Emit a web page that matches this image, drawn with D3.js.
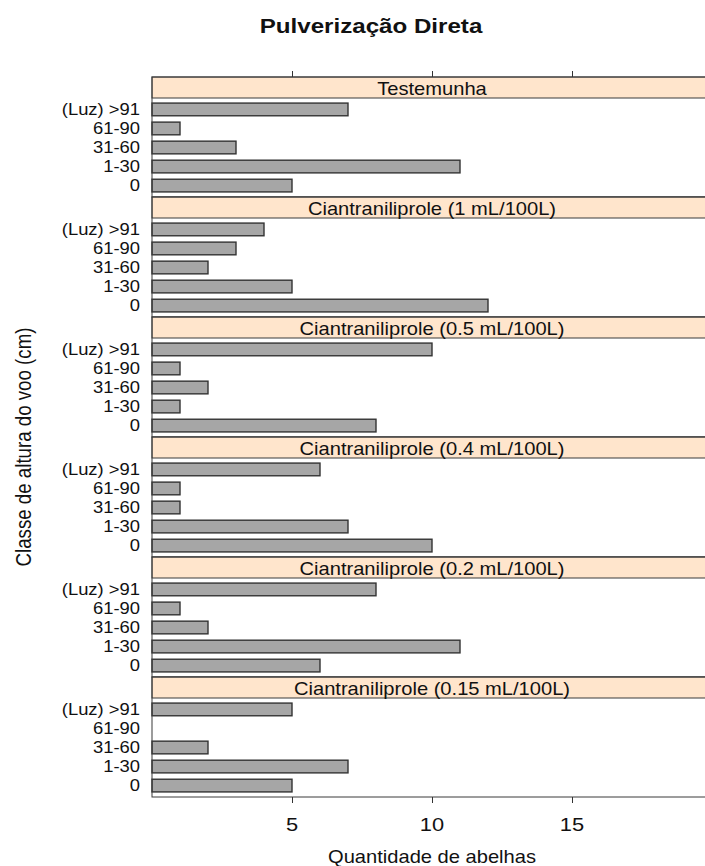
<!DOCTYPE html>
<html>
<head>
<meta charset="utf-8">
<script src="https://cdn.jsdelivr.net/npm/d3@7"></script>
<style>
  html, body { margin: 0; padding: 0; background: #fff; }
  svg { display: block; font-family: "Liberation Sans", Arial, sans-serif; }
</style>
</head>
<body>
<svg id="chart" width="705" height="866"></svg>
<script>
// Flight-height classes, listed bottom to top within each panel
const classes = ["0", "1-30", "31-60", "61-90", "(Luz) >91"];

// Treatments (one panel each, top to bottom)
const treatments = [
  "Testemunha",
  "Ciantraniliprole (1 mL/100L)",
  "Ciantraniliprole (0.5 mL/100L)",
  "Ciantraniliprole (0.4 mL/100L)",
  "Ciantraniliprole (0.2 mL/100L)",
  "Ciantraniliprole (0.15 mL/100L)"
];

// Bee counts per class (same order as classes)
const testemunha = [5, 11, 3, 1, 7];
const cian1 = [12, 5, 2, 3, 4];
const cian05 = [8, 1, 2, 1, 10];
const cian04 = [10, 7, 1, 1, 6];
const cian02 = [6, 11, 2, 1, 8];
const cian015 = [5, 7, 2, 0, 5];

const xTicks = [5, 10, 15];
const xDomain = [0, 20];

const seriesByPanel = [testemunha, cian1, cian05, cian04, cian02, cian015];

const svg = d3.select("#chart");
const SX = 1.15; // horizontal glyph stretch

const padL = 152, padR = 712, padT = 77, panelH = 120, stripH = 21;
const x = d3.scaleLinear().domain(xDomain).range([padL, padR]);

function stext(px, py, str, size, anchor, weight) {
  return svg.append("text")
    .attr("transform", `translate(${px},${py}) scale(${SX},1)`)
    .attr("text-anchor", anchor || "middle")
    .attr("font-size", size)
    .attr("font-weight", weight || "normal")
    .attr("fill", "#111")
    .text(str);
}

// Title
stext(371, 33, "Pulverização Direta", 21, "middle", "bold");

treatments.forEach((name, i) => {
  const y0 = padT + i * panelH;
  const barTop = y0 + stripH;
  const barBottom = y0 + panelH;
  const y = d3.scaleLinear().domain([0.4, classes.length + 0.6]).range([barBottom, barTop]);
  const unit = Math.abs(y(1) - y(0));
  const bh = unit * 2 / 3;

  // strip
  svg.append("rect")
    .attr("x", padL).attr("y", y0).attr("width", padR - padL).attr("height", stripH)
    .attr("fill", "#ffe5cc").attr("stroke", "#3a3a3a").attr("stroke-width", 1);
  stext((padL + padR) / 2, y0 + 18, name, 17.5, "middle");

  // bars
  const vals = seriesByPanel[i];
  svg.append("g").selectAll("rect")
    .data(classes.map((c, k) => ({ c, k: k + 1, v: vals[k] })))
    .join("rect")
    .attr("x", x(0))
    .attr("y", d => y(d.k) - bh / 2)
    .attr("width", d => x(d.v) - x(0))
    .attr("height", bh)
    .attr("fill", "#a6a6a6")
    .attr("stroke", "#333")
    .attr("stroke-width", 1.4);

  // class labels
  classes.forEach((c, k) => {
    stext(140, y(k + 1) + 5.5, c, 16, "end");
  });

  // panel frame
  svg.append("rect")
    .attr("x", padL).attr("y", y0).attr("width", padR - padL).attr("height", panelH)
    .attr("fill", "none").attr("stroke", "#3a3a3a").attr("stroke-width", 1);
});

// top axis ticks
const axTop = svg.append("g").attr("transform", `translate(0,${padT})`)
  .call(d3.axisTop(x).tickValues(xTicks).tickSize(6).tickFormat(""));
axTop.select(".domain").remove();
axTop.selectAll("line").attr("stroke", "#333");

// bottom axis
const padB = padT + treatments.length * panelH;
const axBot = svg.append("g").attr("transform", `translate(0,${padB})`)
  .call(d3.axisBottom(x).tickValues(xTicks).tickSize(6).tickFormat(""));
axBot.select(".domain").remove();
axBot.selectAll("line").attr("stroke", "#333");
xTicks.forEach(t => stext(x(t), 831, String(t), 19, "middle"));

// axis titles
stext((padL + padR) / 2, 863, "Quantidade de abelhas", 17.5, "middle");
svg.append("text")
  .attr("transform", `translate(31,447) rotate(-90) scale(1,${SX})`)
  .attr("text-anchor", "middle")
  .attr("font-size", 18.7)
  .attr("fill", "#111")
  .text("Classe de altura do voo (cm)");
</script>
</body>
</html>
